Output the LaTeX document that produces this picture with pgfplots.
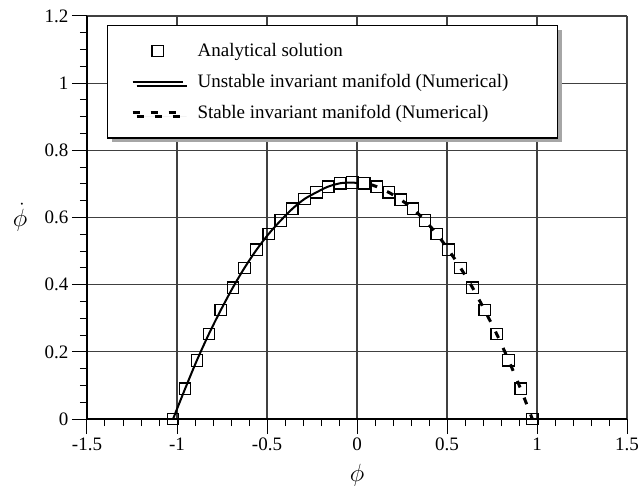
\documentclass[border=0pt]{standalone}
\usepackage{fontspec}
\setmainfont{Liberation Serif}
\usepackage{pgfplots}
\pgfplotsset{compat=1.18}
\usetikzlibrary{shadows}
\pgfplotsset{
  legmark/.style={legend image code/.code={\path[draw=none] (0pt,0pt) (90pt,0pt);
    \draw[##1] plot coordinates {(50pt,0pt)};}},
  legline/.style={legend image code/.code={\path[draw=none] (0pt,0pt) (90pt,0pt);
    \draw[##1] (25pt,0pt) -- (75pt,0pt);}},
}

\begin{document}
\begin{tikzpicture}
\begin{axis}[
  scale only axis, width=540pt, height=403pt,
  xmin=-1.5, xmax=1.5, ymin=0, ymax=1.2,
  xtick={-1.5,-1,-0.5,0,0.5,1,1.5},
  ytick={0,0.2,0.4,0.6,0.8,1,1.2},
  minor x tick num=4, minor y tick num=3,
  axis x line*=bottom, axis y line*=left,
  axis line style={line width=2pt, -},
  tick align=outside,
  major tick length=15pt, minor tick length=7pt,
  tick style={black, line width=1pt},
  grid=major,
  major grid style={line width=1.2pt, black!75},
  /pgf/number format/assume math mode=true,
  ticklabel style={font=\fontsize{19}{21}\selectfont},
  xlabel={$\phi$}, ylabel={$\dot{\phi}$},
  label style={font=\fontsize{25}{27}\selectfont},
  xlabel style={at={(axis description cs:0.5,-0.139)}, anchor=center},
  ylabel style={at={(axis description cs:-0.124,0.5)}, rotate=-90, anchor=center},
  legend cell align=left,
  legend style={at={(axis description cs:0.037,0.978)}, anchor=north west,
    draw=black, line width=1.3pt, fill=white,
    inner xsep=0pt, inner ysep=18pt, row sep=16pt, column sep=0pt,
    font=\fontsize{19}{22}\selectfont,
    nodes={inner sep=0pt},
    drop shadow={shadow xshift=4pt, shadow yshift=-4pt, fill=black!35, opacity=1}},
]
\coordinate (sw) at (rel axis cs:0,0);

\addplot[only marks, mark=square, mark size=5.7pt,
  mark options={line width=1.2pt, black, solid, fill=none}, legmark]
coordinates {
(-1.022,0) (-0.955,0.090) (-0.890,0.174) (-0.823,0.253) (-0.757,0.324)
(-0.690,0.391) (-0.625,0.450) (-0.558,0.504) (-0.491,0.551) (-0.424,0.591)
(-0.359,0.626) (-0.292,0.655) (-0.225,0.675) (-0.160,0.692) (-0.093,0.702)
(-0.026,0.704) (0.041,0.702) (0.109,0.692) (0.176,0.675) (0.243,0.653)
(0.310,0.626) (0.377,0.591) (0.443,0.551) (0.508,0.504) (0.575,0.450)
(0.642,0.391) (0.709,0.324) (0.776,0.253) (0.842,0.175) (0.909,0.090)
(0.974,0)
};
\addlegendentry{\makebox[360pt][l]{Analytical solution}}

\addplot[black, line width=2pt, smooth, no marks, legline]
coordinates {
(-1.022,0) (-0.955,0.090) (-0.890,0.174) (-0.823,0.253) (-0.757,0.324)
(-0.690,0.391) (-0.625,0.450) (-0.558,0.504) (-0.491,0.551) (-0.424,0.591)
(-0.359,0.626) (-0.292,0.655) (-0.225,0.675) (-0.160,0.692) (-0.093,0.702)
(-0.040,0.704) (0.000,0.703)
};
\addlegendentry{Unstable invariant manifold (Numerical)}

\addplot[black, line width=3pt, smooth, no marks, dash pattern=on 7pt off 11pt, legline]
coordinates {
(0.075,0.698) (0.109,0.692) (0.176,0.675) (0.243,0.653)
(0.310,0.626) (0.377,0.591) (0.443,0.551) (0.508,0.504) (0.575,0.450)
(0.642,0.391) (0.709,0.324) (0.776,0.253) (0.842,0.175) (0.909,0.090)
(0.974,0)
};
\addlegendentry{Stable invariant manifold (Numerical)}
\end{axis}
\pgfresetboundingbox
\path (sw) ++(-87pt,-73pt) rectangle ++(644pt,492pt);
\end{tikzpicture}
\end{document}
